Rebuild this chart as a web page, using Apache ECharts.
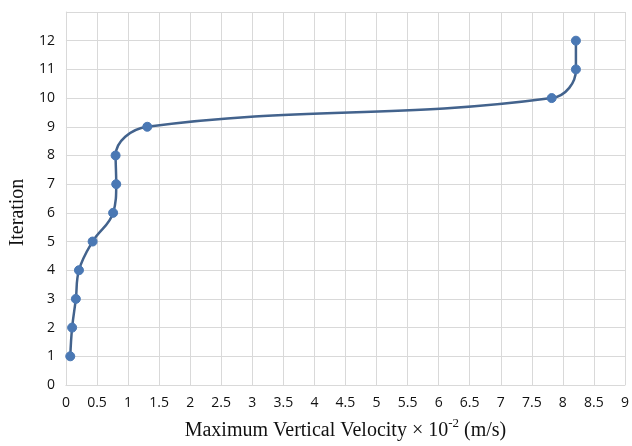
<!DOCTYPE html>
<html>
<head>
<meta charset="utf-8">
<script src="https://cdn.jsdelivr.net/npm/echarts@6/dist/echarts.min.js"></script>
<style>html,body{margin:0;padding:0;background:#fff;}#c{width:632px;height:446px;}</style>
</head>
<body>
<div id="c"></div>
<script>
var iterations = [1, 2, 3, 4, 5, 6, 7, 8, 9, 10, 11, 12];
var velocity = [0.07, 0.10, 0.16, 0.21, 0.43, 0.76, 0.81, 0.80, 1.31, 7.82, 8.21, 8.21];
var xTicks = [0, 0.5, 1, 1.5, 2, 2.5, 3, 3.5, 4, 4.5, 5, 5.5, 6, 6.5, 7, 7.5, 8, 8.5, 9];
var yTicks = [0, 1, 2, 3, 4, 5, 6, 7, 8, 9, 10, 11, 12];

var points = velocity.map(function (v, i) { return [v, iterations[i]]; });
var chart = echarts.init(document.getElementById('c'), null, {renderer: 'canvas'});
var grid = '#d9d9d9';
chart.setOption({
  animation: false,
  backgroundColor: '#fff',
  grid: {left: 56, right: 7, top: 12, bottom: 57, containLabel: false},
  xAxis: {
    type: 'value', min: 0, max: 9, interval: 0.5,
    axisLine: {show: true, lineStyle: {color: grid, width: 1}},
    axisTick: {show: false},
    splitLine: {show: true, lineStyle: {color: grid, width: 1}},
    axisLabel: {
      margin: 11, color: '#111', fontFamily: 'Open Sans', fontSize: 14,
      formatter: function (v) { return xTicks.indexOf(v) >= 0 ? String(v) : ''; }
    },
    name: '{a|Maximum Vertical Velocity × 10}{s|-2}{a| (m/s)}',
    nameLocation: 'middle', nameGap: 32,
    nameTextStyle: {
      rich: {
        a: {fontFamily: 'Liberation Serif', fontSize: 20, color: '#111', verticalAlign: 'bottom', lineHeight: 24},
        s: {fontFamily: 'Liberation Serif', fontSize: 13, color: '#111', verticalAlign: 'top', lineHeight: 24, padding: [0, 0, 9, 0]}
      }
    }
  },
  yAxis: {
    type: 'value', min: 0, max: 13, interval: 1,
    axisLine: {show: true, lineStyle: {color: grid, width: 1}},
    axisTick: {show: false},
    splitLine: {show: true, lineStyle: {color: grid, width: 1}},
    axisLabel: {
      margin: 11, color: '#111', fontFamily: 'Open Sans', fontSize: 14,
      formatter: function (v) { return yTicks.indexOf(v) >= 0 ? String(v) : ''; }
    },
    name: 'Iteration', nameLocation: 'middle', nameGap: 31, nameRotate: 90,
    nameTextStyle: {fontFamily: 'Liberation Serif', fontSize: 20, color: '#111', padding: [0, 28, 0, 0]}
  },
  series: [{
    type: 'line',
    data: points,
    smooth: 0.4,
    symbol: 'circle', symbolSize: 9,
    lineStyle: {color: '#43638d', width: 2.5},
    itemStyle: {color: '#4a78b4', borderColor: '#4a78b4'}
  }]
});
</script>
</body>
</html>
